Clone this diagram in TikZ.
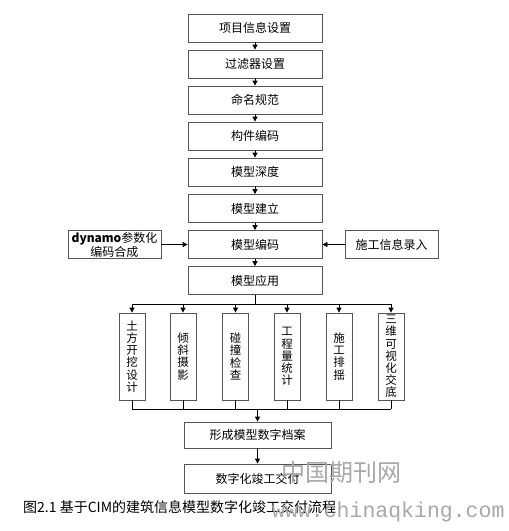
\documentclass[tikz,border=0pt]{standalone}
\usepackage{fontspec}
\newfontfamily\cjk{Noto Sans CJK SC}
\newfontfamily\wmono{Liberation Mono}
\usetikzlibrary{arrows.meta}
\definecolor{boxgray}{HTML}{555555}
\definecolor{wmgray}{HTML}{A8A8A8}
\begin{document}
\begin{tikzpicture}[x=1pt,y=-1pt,
  box/.style={draw=boxgray, line width=0.8pt, minimum width=134pt, minimum height=28pt, inner sep=0pt, align=center, font=\cjk\fontsize{12}{14}\selectfont},
  sbox/.style={box, minimum width=93pt},
  vbox/.style={draw=boxgray, line width=0.8pt, minimum width=26pt, minimum height=87pt, inner sep=0pt, align=center, font=\cjk\fontsize{11.5}{12.2}\selectfont},
  bbox/.style={box, minimum width=147pt},
  conn/.style={line width=0.8pt},
  arr/.style={conn, -{Triangle[length=5pt,width=5pt]}}]
\fill[white] (0,0) rectangle (509,531);
\useasboundingbox (0,0) rectangle (509,531);
\node[box] (n1) at (255,28) {项目信息设置};
\node[box] (n2) at (255,64) {过滤器设置};
\node[box] (n3) at (255,100) {命名规范};
\node[box] (n4) at (255,136) {构件编码};
\node[box] (n5) at (255,172) {模型深度};
\node[box] (n6) at (255,208.5) {模型建立};
\node[box] (n7) at (255,244.5) {模型编码};
\node[box] (n8) at (255,280.5) {模型应用};
\node[sbox] (L) at (114.5,244.5) {\textbf{dynamo}参数化\\编码合成};
\node[sbox] (R) at (391.5,244.5) {施工信息录入};
\foreach \a/\b in {n1/n2,n2/n3,n3/n4,n4/n5,n5/n6,n6/n7,n7/n8}
  \draw[arr] (\a) -- (\b);
\draw[arr] (L) -- (n7);
\draw[arr] (R) -- (n7);
\node[vbox] (v1) at (132,356.5) {土\\方\\开\\挖\\设\\计};
\node[vbox] (v2) at (183,356.5) {倾\\斜\\摄\\影};
\node[vbox] (v3) at (235.5,356.5) {碰\\撞\\检\\查};
\node[vbox] (v4) at (287,356.5) {工\\程\\量\\统\\计};
\node[vbox] (v5) at (339,356.5) {施\\工\\排\\揺};
\node[vbox] (v6) at (391,356.5) {三\\维\\可\\视\\化\\交\\底};
\coordinate (b) at (255,304);
\draw[conn] (n8) -- (b);
\draw[conn] (v1.north |- b) -- (v6.north |- b);
\foreach \v in {v1,v2,v3,v4,v5,v6}
  \draw[arr] (\v.north |- b) -- (\v.north);
\node[bbox, minimum height=26pt] (f1) at (257.5,435) {形成模型数字档案};
\node[bbox, minimum height=29pt] (f2) at (257.5,478.5) {数字化竣工交付};
\coordinate (c) at (257.5,409);
\draw[conn] (v1.south |- c) -- (v6.south |- c);
\foreach \v in {v1,v2,v3,v4,v5,v6}
  \draw[conn] (\v.south) -- (\v.south |- c);
\draw[arr] (c) -- (f1);
\draw[arr] (f1) -- (f2);
\node[anchor=west, inner sep=0pt, font=\cjk\fontsize{14}{16}\selectfont] (cap) at (23,507) {图2.1 基于CIM的建筑信息模型数字化竣工交付流程};
\node[anchor=west, inner sep=0pt, text=wmgray, font=\cjk\fontsize{24}{26}\selectfont] (wm1) at (281,472) {中国期刊网};
\node[anchor=west, inner sep=0pt, text=wmgray, font=\wmono\fontsize{21.5}{24}\selectfont] (wm2) at (272,512) {www.chinaqking.com};
\end{tikzpicture}
\end{document}
